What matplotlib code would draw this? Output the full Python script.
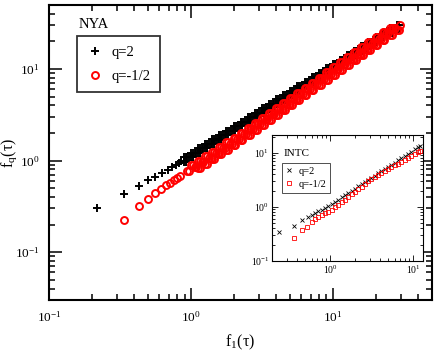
import matplotlib
matplotlib.use("Agg")
import matplotlib.pyplot as plt
from matplotlib.ticker import LogLocator, NullFormatter

plt.rcParams['font.family'] = 'serif'
plt.rcParams['font.serif'] = ['Liberation Serif', 'DejaVu Serif']
plt.rcParams['mathtext.fontset'] = 'stix'

# ---------------- main panel (NYA) ----------------
# x positions of points read along the dense bands
grid_a = [0.891, 1.0, 1.122, 1.259, 1.413, 1.585, 1.778, 1.995, 2.239, 2.512, 2.818, 3.162,
          3.548, 3.981, 4.467, 5.012, 5.623, 6.310, 7.079, 7.943, 8.913, 10.0, 11.22, 12.59,
          14.13, 15.85, 17.78, 19.95, 22.39, 25.12, 28.18]
grid_a2 = [0.917, 1.029, 1.155, 1.296, 1.454, 1.631, 1.830, 2.053, 2.304, 2.585, 2.900, 3.254,
           3.652, 4.097, 4.597, 5.158, 5.787, 6.494, 7.286, 8.175, 9.173, 10.29, 11.55, 12.96,
           14.54, 16.31, 18.30, 20.53, 23.04, 25.85, 29.00]
grid_b = [0.944, 1.059, 1.189, 1.334, 1.496, 1.679, 1.884, 2.113, 2.371, 2.661, 2.985, 3.350,
          3.758, 4.217, 4.732, 5.309, 5.957, 6.683, 7.499, 8.414, 9.441, 10.59, 11.89, 13.34,
          14.96, 16.79, 18.84, 21.13, 23.71, 26.61]
grid_b2 = [0.972, 1.090, 1.224, 1.373, 1.540, 1.728, 1.939, 2.175, 2.440, 2.739, 3.072, 3.448,
           3.868, 4.340, 4.870, 5.464, 6.131, 6.878, 7.718, 8.660, 9.717, 10.90, 12.24, 13.73,
           15.40, 17.28, 19.39, 21.75, 24.40, 27.39]

# q = 2 (black +)
nya_q2_f1_sparse = [0.217, 0.339, 0.43, 0.50, 0.557, 0.628, 0.686, 0.731, 0.78, 0.82, 0.851]
nya_q2_fq_sparse = [0.30, 0.435, 0.526, 0.607, 0.66, 0.735, 0.79, 0.845, 0.90, 0.94, 0.99]
nya_q2_fq_upper = [1.088, 1.216, 1.360, 1.521, 1.700, 1.901, 2.126, 2.377, 2.658, 2.972, 3.323, 3.715,
                   4.155, 4.645, 5.194, 5.808, 6.494, 7.261, 8.120, 9.078, 10.15, 11.35, 12.69, 14.19,
                   15.87, 17.74, 19.84, 22.18, 24.80, 27.73, 30.0]
nya_q2_fq_mid = [1.086, 1.214, 1.357, 1.518, 1.697, 1.898, 2.122, 2.373, 2.653, 2.967, 3.317, 3.709,
                 4.147, 4.637, 5.185, 5.798, 6.484, 7.250, 8.106, 9.064, 10.13, 11.33, 12.67, 14.17,
                 15.84, 17.71, 19.81, 22.14, 24.76, 27.69]
nya_q2_fq_lower = [0.969, 1.084, 1.212, 1.355, 1.515, 1.694, 1.895, 2.118, 2.369, 2.649, 2.962, 3.311,
                   3.703, 4.140, 4.629, 5.176, 5.788, 6.471, 7.237, 8.091, 9.048, 10.12, 11.31, 12.65,
                   14.14, 15.81, 17.68, 19.77, 22.11, 24.72, 27.65]

# q = -1/2 (red o)
nya_qm_f1_sparse = [0.339, 0.43, 0.496, 0.557, 0.615, 0.667, 0.711, 0.755, 0.80]
nya_qm_fq_sparse = [0.227, 0.316, 0.377, 0.446, 0.49, 0.535, 0.57, 0.607, 0.64]
nya_qm_fq_upper = [0.884, 0.992, 1.115, 1.252, 1.407, 1.580, 1.775, 2.015, 2.286, 2.593, 2.943,
                   3.338, 3.787, 4.295, 4.873, 5.529, 6.272, 7.116, 8.072, 9.159, 10.39, 11.79, 13.37,
                   15.17, 17.21, 19.53, 22.15, 25.13, 27.8]          # on grid_a[1:30]
nya_qm_f1_mid_start = [0.841]
nya_qm_fq_mid_start = [0.677]
nya_qm_fq_mid = [0.760, 0.854, 0.959, 1.078, 1.211, 1.360, 1.527, 1.725, 1.957, 2.221, 2.519,
                 2.858, 3.243, 3.679, 4.173, 4.734, 5.370, 6.093, 6.913, 7.842, 8.897, 10.09, 11.45,
                 12.99, 14.74, 16.72, 18.97, 21.52, 24.42, 27.70]   # on grid_b
nya_qm_end_f1 = [29.6]
nya_qm_end_fq = [30.0]
nya_qm_fq_lower = [0.825, 0.927, 1.042, 1.170, 1.314, 1.476, 1.676, 1.901, 2.157, 2.447,
                   2.776, 3.150, 3.573, 4.054, 4.599, 5.218, 5.920, 6.714, 7.617, 8.642, 9.804, 11.12,
                   12.62, 14.31, 16.24, 18.43, 20.90, 23.71, 26.90]  # on grid_a[2:]

# ---------------- inset (INTC) ----------------
intc_q2_f1 = [0.243, 0.371, 0.456, 0.539,
              0.603, 0.661, 0.724, 0.794, 0.871, 0.955, 1.047, 1.148, 1.259, 1.380, 1.514, 1.660,
              1.820, 1.995, 2.188, 2.399, 2.630, 2.884, 3.162, 3.467, 3.802, 4.169, 4.571, 5.012,
              5.495, 6.026, 6.607, 7.244, 7.943, 8.710, 9.550, 10.47, 11.48, 12.13]
intc_q2_fq = [0.34, 0.45, 0.574, 0.645,
              0.709, 0.766, 0.829, 0.896, 0.969, 1.047, 1.141, 1.252, 1.373, 1.507, 1.654, 1.815,
              1.991, 2.185, 2.398, 2.630, 2.886, 3.168, 3.475, 3.814, 4.185, 4.592, 5.039, 5.529,
              6.067, 6.656, 7.305, 8.015, 8.797, 9.650, 10.59, 11.62, 12.75, 13.49]
intc_qm_f1 = [0.371, 0.456, 0.524, 0.612, 0.66, 0.723, 0.794, 0.871,
              0.955, 1.047, 1.148, 1.259, 1.380, 1.514, 1.660, 1.820, 1.995, 2.188, 2.399, 2.630,
              2.884, 3.162, 3.467, 3.802, 4.169, 4.571, 5.012, 5.495, 6.026, 6.607, 7.244, 7.943,
              8.710, 9.550, 10.47, 11.48, 12.13]
intc_qm_fq = [0.263, 0.375, 0.432, 0.535, 0.592, 0.644, 0.701, 0.764,
              0.803, 0.879, 0.982, 1.096, 1.225, 1.368, 1.528, 1.706, 1.905, 2.128, 2.377, 2.655,
              2.965, 3.311, 3.594, 3.898, 4.231, 4.591, 4.983, 5.405, 5.866, 6.365, 6.907, 7.495,
              8.133, 8.825, 9.574, 10.39, 10.89]

legend_labels = ["q=2", "q=-1/2"]

# assemble the series
q2_f1 = (nya_q2_f1_sparse + grid_a + grid_a2 + grid_b + grid_b2 + grid_a + grid_a2)
q2_fq = (nya_q2_fq_sparse + nya_q2_fq_upper + nya_q2_fq_upper + nya_q2_fq_mid + nya_q2_fq_mid
         + nya_q2_fq_lower + nya_q2_fq_lower)
qm_f1 = (nya_qm_f1_sparse + grid_a[1:30] + grid_a2[1:30] + nya_qm_f1_mid_start + grid_b + grid_b2
         + grid_a[2:] + grid_a2[2:] + nya_qm_end_f1)
qm_fq = (nya_qm_fq_sparse + nya_qm_fq_upper + nya_qm_fq_upper + nya_qm_fq_mid_start + nya_qm_fq_mid
         + nya_qm_fq_mid + nya_qm_fq_lower + nya_qm_fq_lower + nya_qm_end_fq)

W, H = 436, 354
fig = plt.figure(figsize=(W / 100, H / 100), dpi=100)
ax = fig.add_axes([49 / W, 1 - 300 / H, (432 - 49) / W, (300 - 5) / H])

ax.plot(q2_f1, q2_fq, ls='none', marker='+', ms=5.5, mew=1.4, color='black', label=legend_labels[0])
ax.plot(qm_f1, qm_fq, ls='none', marker='o', ms=5.0, mew=1.4, mfc='none', mec='red', label=legend_labels[1])

ax.set_xscale('log')
ax.set_yscale('log')
ax.set_xlim(0.1, 49.8)
ax.set_ylim(0.03, 50)
for s in ax.spines.values():
    s.set_linewidth(1.5)
ax.tick_params(which='both', direction='in', top=True, right=True, labelsize=9.5, width=1.1)
ax.tick_params(which='major', length=9, pad=7)
ax.tick_params(which='minor', length=4.5)
ax.xaxis.set_major_locator(LogLocator(base=10, numticks=10))
ax.yaxis.set_major_locator(LogLocator(base=10, numticks=10))
ax.xaxis.set_minor_locator(LogLocator(base=10, subs=range(2, 10), numticks=20))
ax.yaxis.set_minor_locator(LogLocator(base=10, subs=range(2, 10), numticks=20))
ax.xaxis.set_minor_formatter(NullFormatter())
ax.yaxis.set_minor_formatter(NullFormatter())

ax.set_xlabel('f$_\\mathregular{1}$(τ)', fontsize=11.5)
ax.set_ylabel('f$_\\mathregular{q}$(τ)', fontsize=11.5)
ax.xaxis.set_label_coords(0.5, (300 - 333) / 295)
ax.yaxis.set_label_coords((19 - 49) / 383, 0.5)

leg = ax.legend(loc='upper left', bbox_to_anchor=((77 - 49) / 383, (300 - 36) / 295),
                borderaxespad=0, fancybox=False, frameon=True, fontsize=10.5,
                handlelength=1.1, handletextpad=0.6, borderpad=0.65, labelspacing=0.75)
leg.get_frame().set_edgecolor('black')
leg.get_frame().set_linewidth(1.3)
ax.text((79 - 49) / 383, (300 - 25) / 295, 'NYA', transform=ax.transAxes, fontsize=10.5,
        va='center', ha='left')

# inset
axi = fig.add_axes([272 / W, 1 - 261 / H, (423 - 272) / W, (261 - 135) / H])
axi.plot(intc_q2_f1, intc_q2_fq, ls='none', marker='x', ms=2.5, mew=0.6, color='black', label=legend_labels[0])
axi.plot(intc_qm_f1, intc_qm_fq, ls='none', marker='s', ms=2.8, mew=0.6, mfc='none', mec='red', label=legend_labels[1])
axi.set_xscale('log')
axi.set_yscale('log')
axi.set_xlim(0.2, 13.2)
axi.set_ylim(0.1, 21.5)
for s in axi.spines.values():
    s.set_linewidth(0.8)
axi.tick_params(which='both', direction='in', top=True, right=True, labelsize=7, width=0.6, pad=2)
axi.tick_params(which='major', length=4)
axi.tick_params(which='minor', length=2)
axi.xaxis.set_minor_locator(LogLocator(base=10, subs=range(2, 10), numticks=20))
axi.yaxis.set_minor_locator(LogLocator(base=10, subs=range(2, 10), numticks=20))
axi.xaxis.set_minor_formatter(NullFormatter())
axi.yaxis.set_minor_formatter(NullFormatter())
legi = axi.legend(loc='upper left', bbox_to_anchor=((282 - 272) / 151, (261 - 163) / 126),
                  borderaxespad=0, fancybox=False, frameon=True, fontsize=7.5,
                  handlelength=0.6, handletextpad=0.6, borderpad=0.35, labelspacing=0.35)
legi.get_frame().set_edgecolor('black')
legi.get_frame().set_linewidth(0.6)
axi.text((284 - 272) / 151, (261 - 153) / 126, 'INTC', transform=axi.transAxes, fontsize=8,
         va='center', ha='left')

fig.savefig('out.png', dpi=100)
